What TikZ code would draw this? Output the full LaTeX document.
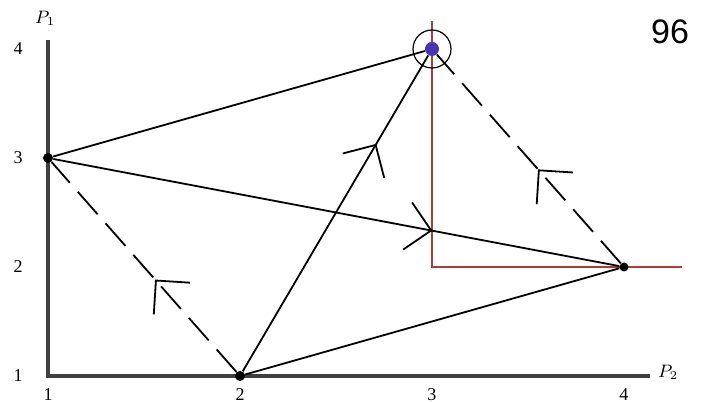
\documentclass[tikz,border=0pt]{standalone}
\usepackage{fontspec}
\setmainfont{Liberation Serif}
\setsansfont{Liberation Sans}
\usetikzlibrary{arrows.meta, decorations.markings}

\definecolor{axisgray}{gray}{0.25}
\definecolor{pathred}{RGB}{168,62,62}
\definecolor{optblue}{RGB}{74,52,178}

\begin{document}
\begin{tikzpicture}[
    x=96pt, y=54.5pt,
    every node/.style={font=\small},
    axis/.style={draw=axisgray, line width=1.7pt},
    dot/.style={circle, fill=black, inner sep=0pt, minimum size=5pt},
    optdot/.style={circle, fill=optblue, inner sep=0pt, minimum size=7pt},
    ring/.style={circle, draw, line width=0.6pt, inner sep=0pt, minimum size=19pt},
    edge/.style={line width=0.9pt},
    dashedge/.style={line width=0.9pt, dash pattern=on 15pt off 6pt},
    redline/.style={draw=pathred, line width=0.8pt},
    tick/.style={font=\small},
    midarrow/.style={postaction={decorate}, decoration={markings,
        mark=at position #1 with {\arrow{Straight Barb[angle=90:17pt, line width=0.9pt]}}}},
]
\useasboundingbox (0.75,0.7615) rectangle (4.448,4.4495);

% ── axes ──
\coordinate (O) at (1,1);
\coordinate (ytop) at (1,4.08);
\coordinate (xend) at (4.135,1);
\draw[axis] (ytop) -- (O) -- (xend);
\node (p1) at (0.985,4.28) {$P_1$};
\node (p2) at (4.23,1.03) {$P_2$};

% ── tick labels ──
\foreach \v in {1,...,4} {
    \node[tick] (ylab\v) at (0.844,\v) {\v};
    \node[tick] (xlab\v) at (\v,0.83) {\v};
}

% ── page number ──
\node[font=\sffamily\fontsize{17}{17}\selectfont] (num) at (4.24,4.156) {96};

% ── reaction curve ──
\coordinate (rtop) at (3,4.26);
\coordinate (rcorner) at (3,2);
\coordinate (rend) at (4.30,2);
\draw[redline] (rtop) -- (rcorner) -- (rend);

% ── profiles ──
\node[dot] (A) at (1,3) {};
\node[dot] (B) at (2,1) {};
\node[optdot] (C) at (3,4) {};
\node[dot, minimum size=4.5pt] (D) at (4,2) {};
\node[ring] (Cring) at (C) {};

% ── moves ──
\draw[edge] (A) -- (C);
\draw[edge] (B) -- (D);
\draw[edge, midarrow=0.72] (B) -- (C);
\draw[edge, midarrow=0.67] (A) -- (D);
\draw[dashedge, midarrow=0.44] (B) -- (A);
\draw[dashedge, midarrow=0.45] (D) -- (C);

\end{tikzpicture}
\end{document}
